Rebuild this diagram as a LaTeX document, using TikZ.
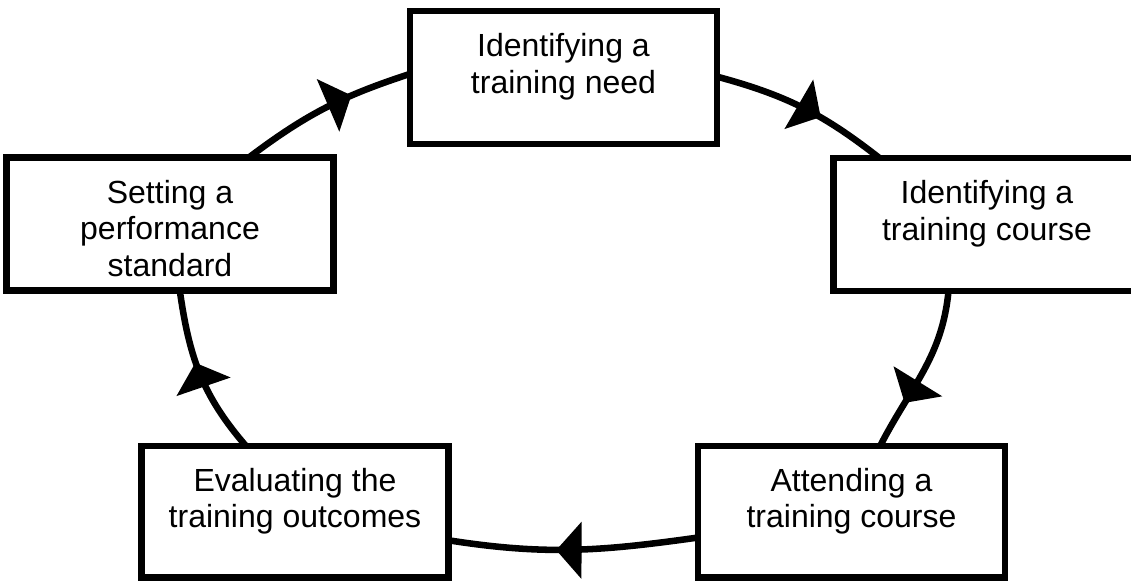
\documentclass[tikz,border=0pt]{standalone}
\usepackage{fontspec}
\setmainfont{Liberation Sans}
\usetikzlibrary{decorations.markings,backgrounds}
% extra headroom above the first line of each label
\newcommand{\headroom}{\rule{0pt}{24pt}}

\begin{document}
\begin{tikzpicture}[x=0.75pt,y=-0.75pt,
  stagebox/.style={draw=black, line width=4.9pt, fill=white,
    minimum width=230.25pt, minimum height=99.75pt, inner sep=0pt,
    align=center, font=\fontsize{24}{27.5}\selectfont},
  flow/.style={line width=4.9pt, shorten <=-4pt, shorten >=-4pt,
    postaction={decorate},
    decoration={markings, mark=at position #1 with
      {\fill[black] (0,0) -- (-19pt,21.5pt) -- (-19pt,-21.5pt) -- cycle;}}}
]
\useasboundingbox (0,0) rectangle (1131,581);

% the five stages of the cycle
\node[stagebox] (need) at (563.5,77.5) {\headroom Identifying a\\training need\\\mbox{}};
\node[stagebox] (find) at (987,224.5) {\headroom Identifying a\\training course\\\mbox{}};
\node[stagebox, minimum height=98.6pt] (attend) at (851.5,511.8) {\headroom Attending a\\training course\\\mbox{}};
\node[stagebox, minimum height=98.6pt] (eval) at (295,511.8) {\headroom Evaluating the\\training outcomes\\\mbox{}};
\node[stagebox, minimum width=245.25pt] (std) at (170,224) {\headroom Setting a\\performance\\standard};

% curved connectors with mid-path arrowheads, behind the boxes
\begin{pgfonlayer}{background}
\draw[flow=0.62] (need.east) to[out=-15,in=142] ([xshift=33.75pt]find.north west);
\draw[flow=0.72] ([xshift=88.5pt]find.south west) to[out=-95,in=63] ([xshift=140.25pt]attend.north west);
\draw[flow=0.57] ([yshift=-19.65pt]attend.west) to[out=188,in=-9] ([yshift=-21.75pt]eval.east);
\draw[flow=0.57] ([xshift=78.75pt]eval.north west) to[out=131,in=-82] ([xshift=132.75pt]std.south west);
\draw[flow=0.66] ([xshift=187.5pt]std.north west) to[out=37,in=-162] ([yshift=1.9pt]need.west);
\end{pgfonlayer}
\end{tikzpicture}
\end{document}
